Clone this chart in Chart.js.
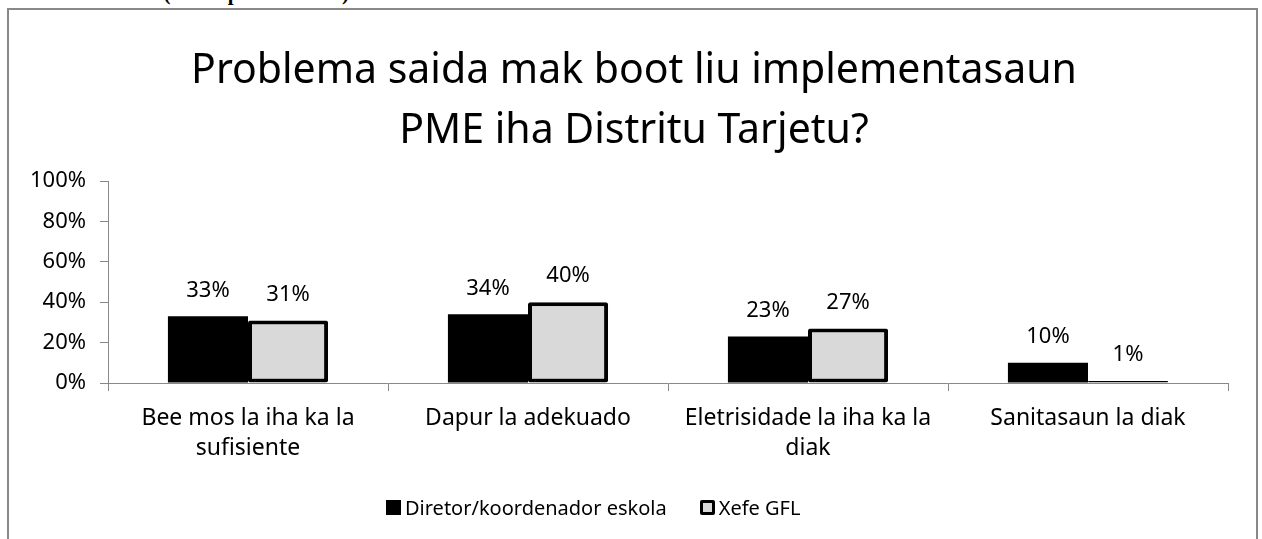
<!DOCTYPE html>
<html>
<head>
<meta charset="utf-8">
<script src="https://cdn.jsdelivr.net/npm/chart.js@4.4.1/dist/chart.umd.min.js"></script>
<style>
  body { margin: 0; background: #fff; overflow: hidden; width: 1262px; height: 539px; position: relative; }
  #heading { position: absolute; left: 13px; top: -17px; font: bold 21px/21px "Liberation Serif", "Times New Roman", serif; color: #000; white-space: nowrap; }
  #box { position: absolute; left: 7px; top: 8px; width: 1247px; height: 540px; border: 2px solid #888; background: #fff; }
  #legend { position: absolute; left: 386px; top: 494px; font: 20px "Noto Sans", sans-serif; color: #000; display: flex; align-items: center; white-space: nowrap; }
  #legend span.item { display: flex; align-items: center; margin-right: 33px; }
  #legend i { display: inline-block; width: 15px; height: 15px; margin-right: 4px; box-sizing: border-box; }
</style>
</head>
<body>
<div id="heading">ka saneamentu? (Munsipiu Aiva sira)</div>
<div id="box"><canvas id="chart" width="1247" height="540"></canvas></div>
<div id="legend"></div>
<script>
// données
const titre = ['Problema saida mak boot liu implementasaun', 'PME iha Distritu Tarjetu?'];
const categories = [
  ['Bee mos la iha ka la', 'sufisiente'],
  'Dapur la adekuado',
  ['Eletrisidade la iha ka la', 'diak'],
  'Sanitasaun la diak'
];
const series = ['Diretor/koordenador eskola', 'Xefe GFL'];
const diretor = [33, 34, 23, 10];
const xefe = [31, 40, 27, 1];
const yTicks = [0, 20, 40, 60, 80, 100];

const police = '"Noto Sans", sans-serif';

// étiquettes au-dessus des barres
const etiquettes = {
  id: 'etiquettes',
  afterDatasetsDraw(chart) {
    const ctx = chart.ctx;
    ctx.save();
    ctx.font = '22px ' + police;
    ctx.fillStyle = '#000';
    ctx.textAlign = 'center';
    ctx.textBaseline = 'middle';
    chart.data.datasets.forEach((ds, i) => {
      chart.getDatasetMeta(i).data.forEach((bar, j) => {
        ctx.fillText(ds.data[j] + '%', bar.x, bar.y - 26);
      });
    });
    ctx.restore();
  }
};

const ctx = document.getElementById('chart').getContext('2d');
const chart = new Chart(ctx, {
  type: 'bar',
  data: {
    labels: categories,
    datasets: [{
      label: series[0],
      data: diretor,
      backgroundColor: '#000',
      borderColor: '#000',
      borderWidth: 0,
      categoryPercentage: 0.572,
      barPercentage: 1
    }, {
      label: series[1],
      data: xefe,
      backgroundColor: '#d9d9d9',
      borderColor: '#000',
      borderWidth: 4,
      borderRadius: 2,
      borderSkipped: false,
      categoryPercentage: 0.572,
      barPercentage: 1
    }]
  },
  options: {
    responsive: false,
    animation: false,
    layout: { padding: { left: 3, right: 0, top: 0, bottom: 0 } },
    plugins: {
      legend: { display: false },
      tooltip: { enabled: false },
      title: {
        display: true,
        text: titre,
        color: '#000',
        font: { family: police, size: 41, weight: 'normal', lineHeight: '60px' },
        padding: { top: 31, bottom: 20 }
      }
    },
    scales: {
      x: {
        grid: { drawOnChartArea: false, drawTicks: true, tickLength: 8, color: '#888', offset: true },
        border: { color: '#888', width: 1 },
        ticks: { color: '#000', font: { family: police, size: 23, lineHeight: 1.3 }, padding: 13, maxRotation: 0 },
        afterFit(scale) { scale.height = 167; }
      },
      y: {
        min: 0,
        max: 100,
        afterBuildTicks(scale) { scale.ticks = yTicks.map(v => ({ value: v })); },
        grid: { drawOnChartArea: false, drawTicks: true, tickLength: 8, color: '#888' },
        border: { color: '#888', width: 1 },
        ticks: { color: '#000', font: { family: police, size: 22 }, padding: 14, callback: v => v + '%' },
        afterFit(scale) { scale.width = 96; }
      },
      // marge droite de la zone de tracé
      yDroite: {
        position: 'right',
        grid: { display: false },
        border: { display: false },
        ticks: { display: false },
        afterFit(scale) { scale.width = 28; }
      }
    }
  },
  plugins: [etiquettes]
});

// légende
const legende = document.getElementById('legend');
chart.data.datasets.forEach(ds => {
  const item = document.createElement('span');
  item.className = 'item';
  const carre = document.createElement('i');
  carre.style.background = ds.backgroundColor;
  if (ds.borderWidth) { carre.style.border = '3px solid #000'; carre.style.borderRadius = '2px'; }
  item.appendChild(carre);
  item.appendChild(document.createTextNode(ds.label));
  legende.appendChild(item);
});
</script>
</body>
</html>
